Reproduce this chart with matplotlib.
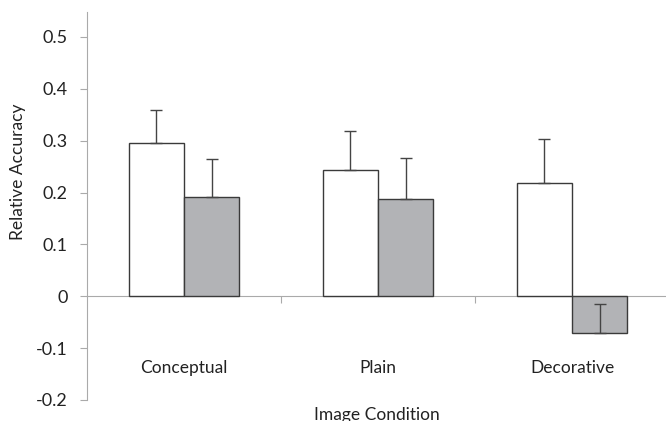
import matplotlib.pyplot as plt

categories = ["Conceptual", "Plain", "Decorative"]
white_vals = [0.296, 0.243, 0.218]
white_err = [0.064, 0.075, 0.085]
gray_vals = [0.192, 0.188, -0.071]
gray_err = [0.072, 0.079, 0.057]
yticks = [-0.2, -0.1, 0, 0.1, 0.2, 0.3, 0.4, 0.5]
ytick_labels = ["-0.2", "-0.1", "0", "0.1", "0.2", "0.3", "0.4", "0.5"]

plt.rcParams["font.family"] = ["Lato", "DejaVu Sans"]

fig = plt.figure(figsize=(6.66, 4.21), dpi=100)
ax = fig.add_axes([87 / 666, 21 / 421, 582 / 666, 388 / 421])

w = 0.284
x = list(range(len(categories)))
xw = [xi - w / 2 for xi in x]
xg = [xi + w / 2 for xi in x]

ax.bar(xw, white_vals, w, color="white", edgecolor="#3a3a3a", linewidth=1.0, zorder=2)
ax.bar(xg, gray_vals, w, color="#b2b3b6", edgecolor="#3a3a3a", linewidth=1.0, zorder=2)

# plus-only error bars like excel
ax.errorbar(xw, white_vals, yerr=[[0] * 3, white_err], fmt="none",
            ecolor="#444444", elinewidth=1.0, capsize=4, capthick=1.0, zorder=3)
ax.errorbar(xg, gray_vals, yerr=[[0] * 3, gray_err], fmt="none",
            ecolor="#444444", elinewidth=1.0, capsize=4, capthick=1.0, zorder=3)

ax.set_xlim(-0.5, 2.5)
ax.set_ylim(-0.2, 0.548)

for s in ["top", "right"]:
    ax.spines[s].set_visible(False)
ax.spines["left"].set_color("#aaaaaa")
ax.spines["left"].set_bounds(-0.2, 0.548)
ax.spines["bottom"].set_position(("data", 0))
ax.spines["bottom"].set_color("#aaaaaa")
ax.spines["bottom"].set_zorder(1)

ax.set_yticks(yticks)
ax.set_yticklabels(ytick_labels, fontsize=13, color="#222222")
ax.tick_params(axis="y", direction="out", length=5, color="#aaaaaa", pad=9)

ax.set_xticks([0.5, 1.5])
ax.set_xticklabels([])
ax.tick_params(axis="x", direction="out", length=5, color="#aaaaaa")

for xi, c in zip(x, categories):
    ax.text(xi, -0.139, c, ha="center", va="center", fontsize=12.5, color="#222222")

fig.text(377 / 666, 1 - 407 / 421, "Image Condition", ha="center",
         va="top", fontsize=12.5, color="#222222")
fig.text(18 / 666, 1 - 172 / 421, "Relative Accuracy", rotation=90, ha="center",
         va="center", fontsize=12.5, color="#222222")

fig.savefig("out.png", dpi=100)
